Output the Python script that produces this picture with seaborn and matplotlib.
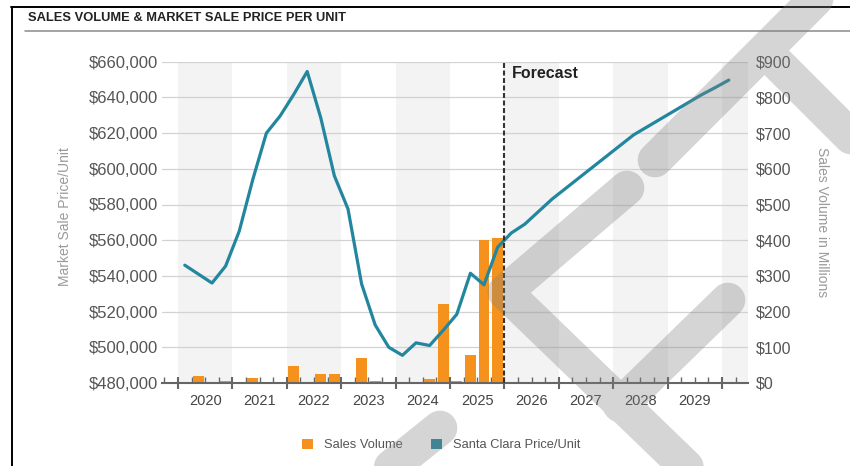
import numpy as np
import pandas as pd
import matplotlib
matplotlib.use("Agg")
import matplotlib.pyplot as plt
import seaborn as sns
from matplotlib.lines import Line2D
from matplotlib.patches import Patch
from matplotlib.ticker import FixedLocator, FixedFormatter, FuncFormatter

# ---------------- data ----------------
year_labels = ["2020", "2021", "2022", "2023", "2024", "2025", "2026", "2027", "2028", "2029"]
forecast_start = "2026Q1"

# quarterly sales volume ($ millions), 2020Q1 .. 2025Q4
volume_quarters = [str(p) for p in pd.period_range("2020Q1", "2025Q4", freq="Q")]
sales_volume = [0, 20, 0, 5,
                2, 13, 0, 0,
                48, 2, 24, 26,
                0, 71, 5, 0,
                0, 0, 11, 222,
                6, 78, 400, 407]

# quarterly market sale price per unit, 2020Q1 .. 2030Q1
price_quarters = [str(p) for p in pd.period_range("2020Q1", "2030Q1", freq="Q")]
price_per_unit = [546000, 541000, 536000, 545500,
                  565000, 594000, 620000, 629500,
                  641500, 654500, 628500, 596000,
                  577500, 535500, 512500, 500000,
                  495500, 502500, 501000, 509500,
                  518500, 541500, 535000, 556000,
                  564000, 569000, 576000, 583000,
                  589000, 595000, 601000, 607000,
                  613000, 619000, 623500, 628000,
                  632500, 637000, 641500, 645500,
                  649700]

price_ticks = [480000, 500000, 520000, 540000, 560000, 580000, 600000, 620000, 640000, 660000]
volume_ticks = [0, 100, 200, 300, 400, 500, 600, 700, 800, 900]


def qpos(q):
    """quarter label -> decimal year at the middle of the quarter"""
    p = pd.Period(q, freq="Q")
    return p.year + (p.quarter - 0.5) / 4.0


def qstart(q):
    p = pd.Period(q, freq="Q")
    return p.year + (p.quarter - 1) / 4.0


df_vol = pd.DataFrame({"pos": [qpos(q) for q in volume_quarters], "vol": sales_volume})
df_price = pd.DataFrame({"pos": [qpos(q) for q in price_quarters], "price": price_per_unit})

ORANGE = "#f5921e"
TEAL = "#23869f"

# ---------------- style ----------------
sns.set_theme(style="white")
plt.rcParams["font.family"] = ["Liberation Sans", "DejaVu Sans"]

W, H = 850, 466
fig = plt.figure(figsize=(W / 100, H / 100), dpi=100)
fig.patch.set_facecolor("white")

ax_left, ax_right, ax_top, ax_bot = 162, 748, 61.7, 383
ax_v = fig.add_axes([ax_left / W, 1 - ax_bot / H, (ax_right - ax_left) / W, (ax_bot - ax_top) / H])
ax_p = ax_v.twinx()

first_year = int(year_labels[0])
last_year = int(year_labels[-1])
xmin, xmax = 2019.706, 2030.478

# alternating year shading
for y in range(first_year, last_year + 2, 2):
    ax_v.axvspan(y, y + 1, color="#f3f3f3", zorder=0.1, lw=0)

# bars (sales volume) on the right axis
sns.barplot(data=df_vol, x="pos", y="vol", native_scale=True, ax=ax_v, color=ORANGE,
            saturation=1, errorbar=None, width=0.8, linewidth=0, zorder=2)

# line (price per unit) on the left axis
sns.lineplot(data=df_price, x="pos", y="price", ax=ax_p, color=TEAL, linewidth=2.3, zorder=3)

# forecast marker
fx = qstart(forecast_start)
ax_p.axvline(fx, color="#333333", lw=1.5, dashes=(2.4, 1.2), zorder=4)
ax_p.text(fx + 0.13, 653500, "Forecast", fontsize=11.5, fontweight="bold", color="#222222",
          ha="left", va="center")

# axes limits
ax_v.set_xlim(xmin, xmax)
ax_v.set_ylim(volume_ticks[0], volume_ticks[-1])
ax_p.set_ylim(price_ticks[0], price_ticks[-1])

# y axes
ax_p.yaxis.tick_left()
ax_v.yaxis.tick_right()
ax_p.set_yticks(price_ticks)
ax_p.yaxis.set_major_formatter(FuncFormatter(lambda v, _: f"${v:,.0f}"))
ax_v.set_yticks(volume_ticks)
ax_v.yaxis.set_major_formatter(FuncFormatter(lambda v, _: f"${v:,.0f}"))
ax_p.tick_params(axis="y", which="both", length=0, pad=3, labelsize=12, labelcolor="#555555",
                 left=True, labelleft=True, right=False, labelright=False)
ax_v.tick_params(axis="y", which="both", length=0, pad=6, labelsize=11.5, labelcolor="#555555",
                 right=True, labelright=True, left=False, labelleft=False)

# grid
ax_v.set_axisbelow(True)
ax_v.yaxis.grid(True, color="#d2d2d2", lw=0.9)
ax_v.xaxis.grid(False)
ax_p.grid(False)

# x axis: year boundary ticks, quarter minor ticks, labels centred in each year
major = list(range(first_year, last_year + 2))
minor = []
minor_labels = []
for i in range(0, 44):
    m = first_year - 0.25 + 0.25 * i
    if m < xmin or m > xmax + 0.01:
        continue
    frac = m - np.floor(m)
    if abs(frac) < 1e-9:
        continue  # year boundaries are major ticks
    minor.append(m)
    yr = str(int(np.floor(m)))
    minor_labels.append(yr if (abs(frac - 0.5) < 1e-9 and yr in year_labels) else "")
ax_v.xaxis.set_major_locator(FixedLocator(major))
ax_v.xaxis.set_major_formatter(FixedFormatter([""] * len(major)))
ax_v.xaxis.set_minor_locator(FixedLocator(minor))
ax_v.xaxis.set_minor_formatter(FixedFormatter(minor_labels))
ax_v.tick_params(axis="x", which="major", direction="inout", length=9, width=1.5, color="#666666",
                 bottom=True, labelbottom=False)
ax_v.tick_params(axis="x", which="minor", direction="in", length=4.5, width=1, color="#666666",
                 bottom=True, labelbottom=True, pad=8, labelsize=10.5, labelcolor="#444444")

for a in (ax_v, ax_p):
    a.set_xlabel("")
    a.set_ylabel("")
    for s in ("top", "left", "right", "bottom"):
        a.spines[s].set_visible(False)
ax_v.spines["bottom"].set_visible(True)
ax_v.spines["bottom"].set_color("#666666")
ax_v.spines["bottom"].set_linewidth(1.5)
ax_p.patch.set_visible(False)

# axis titles
fig.text(65 / W, 1 - 217 / H, "Market Sale Price/Unit", rotation=90, fontsize=10, color="#9a9a9a",
         ha="center", va="center")
fig.text(822 / W, 1 - 222 / H, "Sales Volume in Millions", rotation=270, fontsize=10, color="#9a9a9a",
         ha="center", va="center")

# title and frame
fig.text(28 / W, 1 - 18 / H, "SALES VOLUME & MARKET SALE PRICE PER UNIT", fontsize=9.3,
         fontweight="bold", color="#222222", ha="left", va="center")
fig.add_artist(Line2D([11 / W, 1], [1 - 6.7 / H] * 2, transform=fig.transFigure, color="black", lw=1.4))
fig.add_artist(Line2D([11.5 / W] * 2, [0, 1 - 6.7 / H], transform=fig.transFigure, color="black", lw=1.4))
fig.add_artist(Line2D([25 / W, 1], [1 - 31 / H] * 2, transform=fig.transFigure, color="#8a8a8a", lw=1.1))

# legend
handles = [Patch(facecolor=ORANGE, edgecolor="none"), Patch(facecolor=TEAL, edgecolor="none")]
fig.legend(handles, ["Sales Volume", "Santa Clara Price/Unit"], loc="center",
           bbox_to_anchor=(0.519, 1 - 445 / H), ncol=2, frameon=False, fontsize=9.3,
           handlelength=0.85, handleheight=0.85, handletextpad=0.85, columnspacing=2.2,
           labelcolor="#555555")

# watermark overlay (decorative strokes, pixel coordinates)
strokes = [((655, 160), (845, -30)),
           ((772, 58), (880, 166)),
           ((505, 292), (627, 188)),
           ((505, 292), (705, 485)),
           ((728, 300), (620, 405)),
           ((300, 540), (440, 428))]
xs, ys = [], []
for (x0, y0), (x1, y1) in strokes:
    xs += [x0 / W, x1 / W, np.nan]
    ys += [1 - y0 / H, 1 - y1 / H, np.nan]
fig.add_artist(Line2D(xs, ys, transform=fig.transFigure, color="#808080", alpha=0.33,
                      lw=25, solid_capstyle="round", solid_joinstyle="round", zorder=10))

fig.savefig("out.png", dpi=100)
